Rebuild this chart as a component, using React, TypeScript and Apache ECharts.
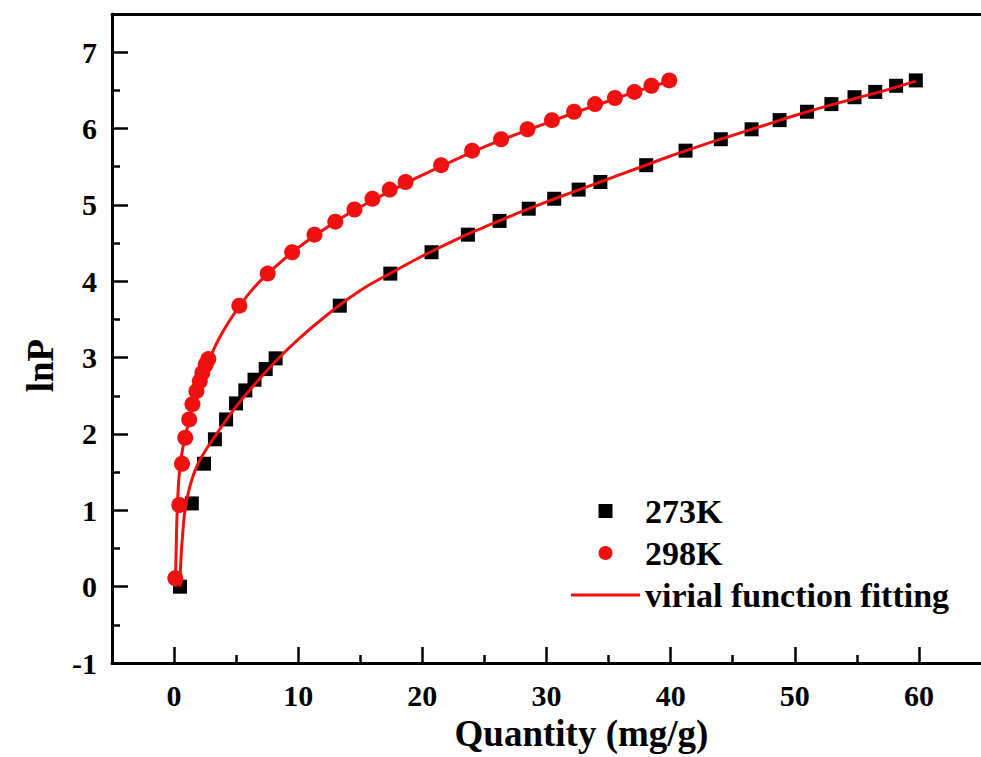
import React, { useEffect, useRef } from "react";
import * as echarts from "echarts";

// ---- data ----
const X_MAJOR = [0, 10, 20, 30, 40, 50, 60];
const X_MINOR = [5, 15, 25, 35, 45, 55];
const Y_MAJOR = [-1, 0, 1, 2, 3, 4, 5, 6, 7];
const Y_MINOR = [-0.5, 0.5, 1.5, 2.5, 3.5, 4.5, 5.5, 6.5];

const S273K: [number, number][] = [
  [0.48, 0.0], [1.43, 1.09], [2.41, 1.61], [3.29, 1.93], [4.19, 2.19],
  [4.99, 2.4], [5.74, 2.57], [6.48, 2.71], [7.38, 2.85], [8.18, 2.99],
  [13.35, 3.68], [17.42, 4.1], [20.74, 4.38], [23.67, 4.61], [26.22, 4.79],
  [28.57, 4.95], [30.62, 5.08], [32.59, 5.2], [34.34, 5.3], [38.03, 5.52],
  [41.2, 5.71], [44.04, 5.86], [46.52, 5.99], [48.78, 6.11], [50.98, 6.22],
  [52.95, 6.32], [54.81, 6.41], [56.48, 6.48], [58.16, 6.56], [59.75, 6.63],
];

const S298K: [number, number][] = [
  [0.1, 0.11], [0.42, 1.07], [0.64, 1.61], [0.9, 1.95], [1.22, 2.19],
  [1.48, 2.39], [1.8, 2.56], [2.07, 2.69], [2.28, 2.8], [2.55, 2.91],
  [2.76, 2.98], [5.26, 3.68], [7.54, 4.1], [9.51, 4.38], [11.31, 4.61],
  [12.99, 4.78], [14.53, 4.94], [15.98, 5.08], [17.37, 5.2], [18.65, 5.3],
  [21.51, 5.52], [24.01, 5.71], [26.34, 5.86], [28.47, 5.99], [30.44, 6.11],
  [32.22, 6.22], [33.91, 6.32], [35.51, 6.4], [37.08, 6.48], [38.45, 6.56],
  [39.89, 6.63],
];

const FIT273K: [number, number][] = [
  [0.47, 0.0], [0.55, 0.35], [0.7, 0.7], [0.9, 1.02], [1.3, 1.33],
  [1.9, 1.6], [2.6, 1.8], [3.3, 1.97], [4.2, 2.18], [5.2, 2.4],
  [6.5, 2.65], [8.0, 2.92], [10.0, 3.24], [12.5, 3.58], [15.0, 3.88],
  [17.5, 4.11], [20.0, 4.33], [22.5, 4.53], [25.0, 4.71], [27.5, 4.88],
  [30.0, 5.04], [32.5, 5.19], [35.0, 5.34], [37.5, 5.49], [40.0, 5.64],
  [42.5, 5.78], [45.0, 5.91], [47.5, 6.04], [50.0, 6.17], [52.5, 6.29],
  [55.0, 6.4], [57.5, 6.51], [59.75, 6.62],
];

const FIT298K: [number, number][] = [
  [0.1, 0.0], [0.17, 0.5], [0.27, 1.05], [0.48, 1.58], [0.85, 1.93],
  [1.2, 2.17], [1.6, 2.42], [2.0, 2.63], [2.5, 2.86], [3.0, 3.04],
  [3.6, 3.24], [4.3, 3.44], [5.26, 3.67], [6.3, 3.89], [7.5, 4.09],
  [9.0, 4.31], [10.5, 4.5], [12.0, 4.67], [14.0, 4.88], [16.0, 5.06],
  [18.0, 5.23], [20.0, 5.39], [22.5, 5.58], [25.0, 5.76], [27.5, 5.92],
  [30.0, 6.07], [32.5, 6.22], [35.0, 6.36], [37.5, 6.5], [39.89, 6.62],
];

const FONT = "'Liberation Serif', 'Times New Roman', serif";
const RED = "#f01010";
const FIT_NAME = "virial function fitting";

export default function App() {
  const ref = useRef<HTMLDivElement>(null);

  useEffect(() => {
    if (!ref.current) return;
    const chart = echarts.init(ref.current, undefined, { renderer: "svg" });
    const axisLine = { onZero: false, lineStyle: { color: "#000", width: 3 } };
    const labelStyle = {
      fontFamily: FONT,
      fontWeight: "bold" as const,
      fontSize: 30,
      color: "#000",
    };
    const option: any = {
      animation: false,
      backgroundColor: "#fff",
      grid: { left: 112, top: 14, bottom: 94, right: -9, containLabel: false },
      xAxis: [
        {
          type: "value",
          min: -5,
          max: 65,
          position: "bottom",
          axisLine,
          axisTick: {
            show: true,
            inside: true,
            length: 16,
            customValues: X_MAJOR,
            lineStyle: { color: "#000", width: 2.5 },
          },
          axisLabel: { ...labelStyle, margin: 17, customValues: X_MAJOR },
          splitLine: { show: false },
          name: "Quantity (mg/g)",
          nameLocation: "middle",
          nameGap: 50,
          nameTextStyle: { ...labelStyle, fontSize: 37, padding: [0, 0, 0, 70] },
        },
        {
          type: "value",
          min: -5,
          max: 65,
          position: "bottom",
          axisLine: { show: false, onZero: false },
          axisTick: {
            show: true,
            inside: true,
            length: 8,
            customValues: X_MINOR,
            lineStyle: { color: "#000", width: 2.5 },
          },
          axisLabel: { show: false },
          splitLine: { show: false },
        },
        {
          type: "value",
          min: -5,
          max: 65,
          position: "top",
          axisLine,
          axisTick: { show: false },
          axisLabel: { show: false },
          splitLine: { show: false },
        },
      ],
      yAxis: [
        {
          type: "value",
          min: -1,
          max: 7.5,
          position: "left",
          axisLine,
          axisTick: {
            show: true,
            inside: true,
            length: 16,
            customValues: Y_MAJOR,
            lineStyle: { color: "#000", width: 2.5 },
          },
          axisLabel: { ...labelStyle, margin: 15, customValues: Y_MAJOR },
          splitLine: { show: false },
          name: "lnP",
          nameLocation: "middle",
          nameGap: 53,
          nameTextStyle: { ...labelStyle, fontSize: 37, padding: [0, 54, 0, 0] },
        },
        {
          type: "value",
          min: -1,
          max: 7.5,
          position: "left",
          axisLine: { show: false, onZero: false },
          axisTick: {
            show: true,
            inside: true,
            length: 8,
            customValues: Y_MINOR,
            lineStyle: { color: "#000", width: 2.5 },
          },
          axisLabel: { show: false },
          splitLine: { show: false },
        },
      ],
      legend: {
        orient: "vertical",
        left: 571,
        top: 494,
        padding: 0,
        itemWidth: 69,
        itemHeight: 14,
        itemGap: 8,
        symbolKeepAspect: true,
        data: [
          { name: "273K", icon: "path://M0,0L10,0L10,10L0,10Z" },
          { name: "298K", icon: "circle" },
          { name: FIT_NAME, icon: "path://M0,0L69,0L69,3L0,3Z" },
        ],
        textStyle: { ...labelStyle, fontSize: 34 },
      },
      series: [
        {
          name: "273K",
          type: "scatter",
          data: S273K,
          symbol: "rect",
          symbolSize: 14,
          itemStyle: { color: "#000", opacity: 1 },
          z: 2,
        },
        {
          name: "298K",
          type: "scatter",
          data: S298K,
          symbol: "circle",
          symbolSize: 16,
          itemStyle: { color: RED, opacity: 1 },
          z: 2,
        },
        {
          name: FIT_NAME,
          type: "line",
          data: FIT273K,
          showSymbol: false,
          symbol: "none",
          smooth: 0.5,
          lineStyle: { color: RED, width: 3 },
          itemStyle: { color: RED },
          z: 3,
        },
        {
          name: FIT_NAME,
          type: "line",
          data: FIT298K,
          showSymbol: false,
          symbol: "none",
          smooth: 0.5,
          lineStyle: { color: RED, width: 3 },
          itemStyle: { color: RED },
          z: 3,
        },
      ],
    };
    chart.setOption(option);
    return () => chart.dispose();
  }, []);

  return (
    <div
      ref={ref}
      style={{ position: "fixed", left: 0, top: 0, width: 981, height: 757, background: "#fff" }}
    />
  );
}
